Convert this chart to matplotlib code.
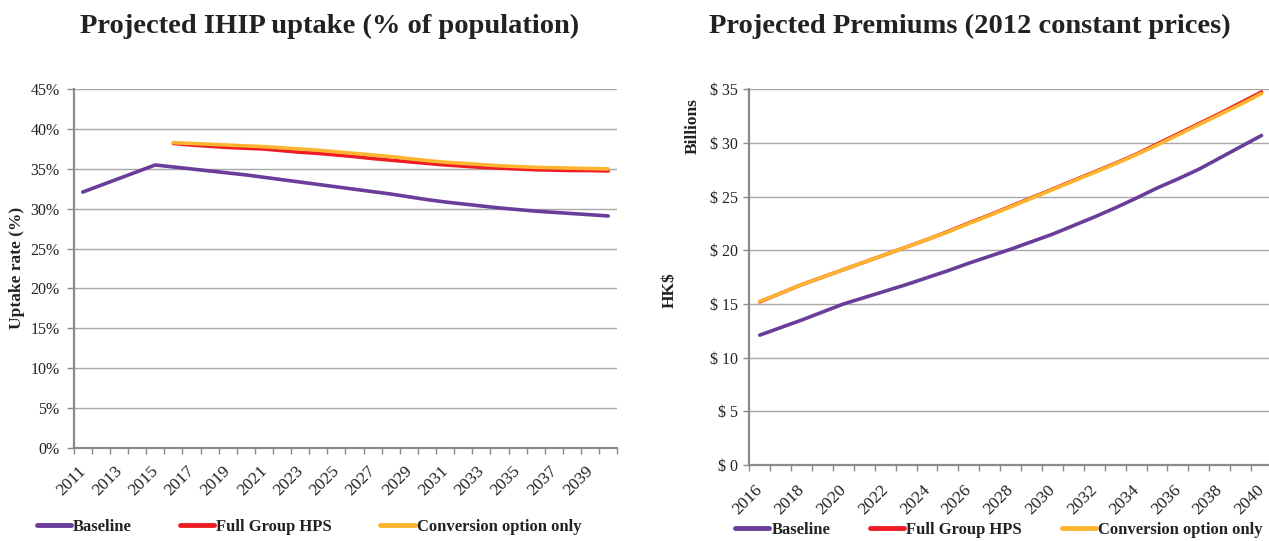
import matplotlib.pyplot as plt
import matplotlib.transforms as mtransforms
import numpy as np

# uptake chart data (% of population)
uptake_years = list(range(2011, 2041))
uptake_baseline = [32.1, 32.95, 33.8, 34.65, 35.5, 35.25, 35.0, 34.75, 34.5, 34.25,
                   33.95, 33.65, 33.35, 33.05, 32.75, 32.45, 32.15, 31.85, 31.5, 31.15,
                   30.85, 30.6, 30.35, 30.1, 29.9, 29.7, 29.55, 29.4, 29.25, 29.1]
uptake_full = [np.nan] * 5 + [38.2, 38.0, 37.85, 37.7, 37.6, 37.5, 37.3, 37.1, 36.95, 36.75,
                              36.55, 36.3, 36.1, 35.9, 35.7, 35.5, 35.35, 35.2, 35.1, 35.0,
                              34.9, 34.85, 34.8, 34.8, 34.75]
uptake_conv = [np.nan] * 5 + [38.3, 38.2, 38.1, 38.0, 37.9, 37.8, 37.65, 37.5, 37.35, 37.15,
                              36.95, 36.75, 36.55, 36.3, 36.05, 35.85, 35.7, 35.55, 35.4, 35.3,
                              35.2, 35.15, 35.1, 35.05, 35.0]

# premiums chart data (HK$ billions)
prem_years = list(range(2016, 2041))
prem_baseline = [12.1, 12.8, 13.5, 14.25, 15.0, 15.6, 16.2, 16.8, 17.45, 18.1,
                 18.8, 19.45, 20.1, 20.8, 21.5, 22.3, 23.1, 23.95, 24.85, 25.8,
                 26.65, 27.55, 28.6, 29.65, 30.7]
prem_full = [15.2, 16.0, 16.8, 17.5, 18.2, 18.9, 19.6, 20.3, 21.0, 21.75,
             22.55, 23.3, 24.1, 24.9, 25.7, 26.5, 27.3, 28.1, 28.95, 29.9,
             30.85, 31.8, 32.75, 33.75, 34.75]
prem_conv = [15.25, 16.0, 16.8, 17.5, 18.2, 18.9, 19.6, 20.3, 21.0, 21.7,
             22.5, 23.25, 24.05, 24.85, 25.65, 26.45, 27.25, 28.05, 28.9, 29.8,
             30.75, 31.7, 32.65, 33.6, 34.6]

series_names = ["Baseline", "Full Group HPS", "Conversion option only"]
colors = ["#6a3d9a", "#ee1c25", "#fdb42e"]

plt.rcParams['font.family'] = ['Liberation Serif', 'DejaVu Serif']
W, H = 1269, 541
fig = plt.figure(figsize=(W / 100, H / 100), dpi=100)

axis_grey = "#8a8a8a"
grid_grey = "#a8a8a8"
text_col = "#222222"


def px_axes(x0, y0, x1, y1):
    # axes rectangle from pixel coords (top-left origin)
    return fig.add_axes([x0 / W, 1 - y1 / H, (x1 - x0) / W, (y1 - y0) / H])


def style_axis(ax, years, ymax, ylabels, label_pad):
    n = len(years)
    ax.set_xlim(-0.5, n - 0.5)
    ax.set_ylim(0, ymax)
    ax.set_xticks(np.arange(-0.5, n, 1.0))
    ax.set_xticklabels([])
    ax.set_xticks(np.arange(0, n, 2), [str(y) for y in years[::2]], minor=True)
    ax.tick_params(axis='x', which='major', length=4, width=1, color=axis_grey, direction='out')
    ax.tick_params(axis='x', which='minor', length=0, pad=label_pad, labelsize=12.5,
                   labelcolor=text_col)
    shift = mtransforms.ScaledTranslation(-5 / 100, 0, fig.dpi_scale_trans)
    for lbl in ax.get_xticklabels(minor=True):
        lbl.set_rotation(45)
        lbl.set_ha('right')
        lbl.set_va('top')
        lbl.set_rotation_mode('anchor')
        lbl.set_transform(lbl.get_transform() + shift)
    ax.set_yticks(np.arange(0, ymax + 1, 5), ylabels)
    ax.tick_params(axis='y', length=5, width=1, color=axis_grey, labelsize=11.5,
                   labelcolor=text_col, pad=5)
    ax.grid(axis='y', color=grid_grey, linewidth=1.0)
    ax.set_axisbelow(True)
    for side in ['top', 'right']:
        ax.spines[side].set_visible(False)
    for side in ['left', 'bottom']:
        ax.spines[side].set_color(axis_grey)
        ax.spines[side].set_linewidth(1.6)


# left chart
ax1 = px_axes(73.7, 89.3, 617.3, 447.7)
x1 = np.arange(len(uptake_years))
lines1 = []
for vals, c in zip([uptake_baseline, uptake_full, uptake_conv], colors):
    ln, = ax1.plot(x1, vals, color=c, linewidth=2.6, solid_capstyle='round')
    lines1.append(ln)
style_axis(ax1, uptake_years, 45, [f"{v}%" for v in range(0, 46, 5)], 11)
fig.text(17 / W, 1 - 268 / H, "Uptake rate (%)", rotation=90, ha='center', va='center',
         fontsize=12.5, fontweight='bold', color=text_col)
fig.text(330 / W, 1 - 26 / H, "Projected IHIP uptake (% of population)", ha='center',
         va='center', fontsize=20.5, fontweight='bold', color=text_col)

# right chart
ax2 = px_axes(749.3, 89.3, 1272, 465)
x2 = np.arange(len(prem_years))
for vals, c in zip([prem_baseline, prem_full, prem_conv], colors):
    ax2.plot(x2, vals, color=c, linewidth=2.6, solid_capstyle='round')
style_axis(ax2, prem_years, 35, [f"$ {v}" for v in range(0, 36, 5)], 12)
ax2.tick_params(axis='y', length=4, pad=4)
fig.text(693 / W, 1 - 126 / H, "Billions", rotation=90, ha='center', va='center',
         fontsize=12.5, fontweight='bold', color=text_col)
fig.text(670 / W, 1 - 290 / H, "HK$", rotation=90, ha='center', va='center',
         fontsize=12.5, fontweight='bold', color=text_col)
fig.text(970 / W, 1 - 26 / H, "Projected Premiums (2012 constant prices)", ha='center',
         va='center', fontsize=20.5, fontweight='bold', color=text_col)

# legends
leg_kw = dict(ncol=3, frameon=False, handlelength=2.05, handletextpad=0.12,
              prop={'weight': 'bold', 'size': 12}, loc='center',
              borderaxespad=0, borderpad=0)
legends = [
    fig.legend(lines1, series_names, bbox_to_anchor=(309 / W, 1 - 527 / H),
               columnspacing=2.9, **leg_kw),
    fig.legend(lines1, series_names, bbox_to_anchor=(999 / W, 1 - 530 / H),
               columnspacing=2.4, **leg_kw),
]
for lg in legends:
    for h in lg.legend_handles:
        h.set_linewidth(3.5)
    for t in lg.get_texts():
        t.set_color(text_col)

fig.savefig("out.png", dpi=100)
